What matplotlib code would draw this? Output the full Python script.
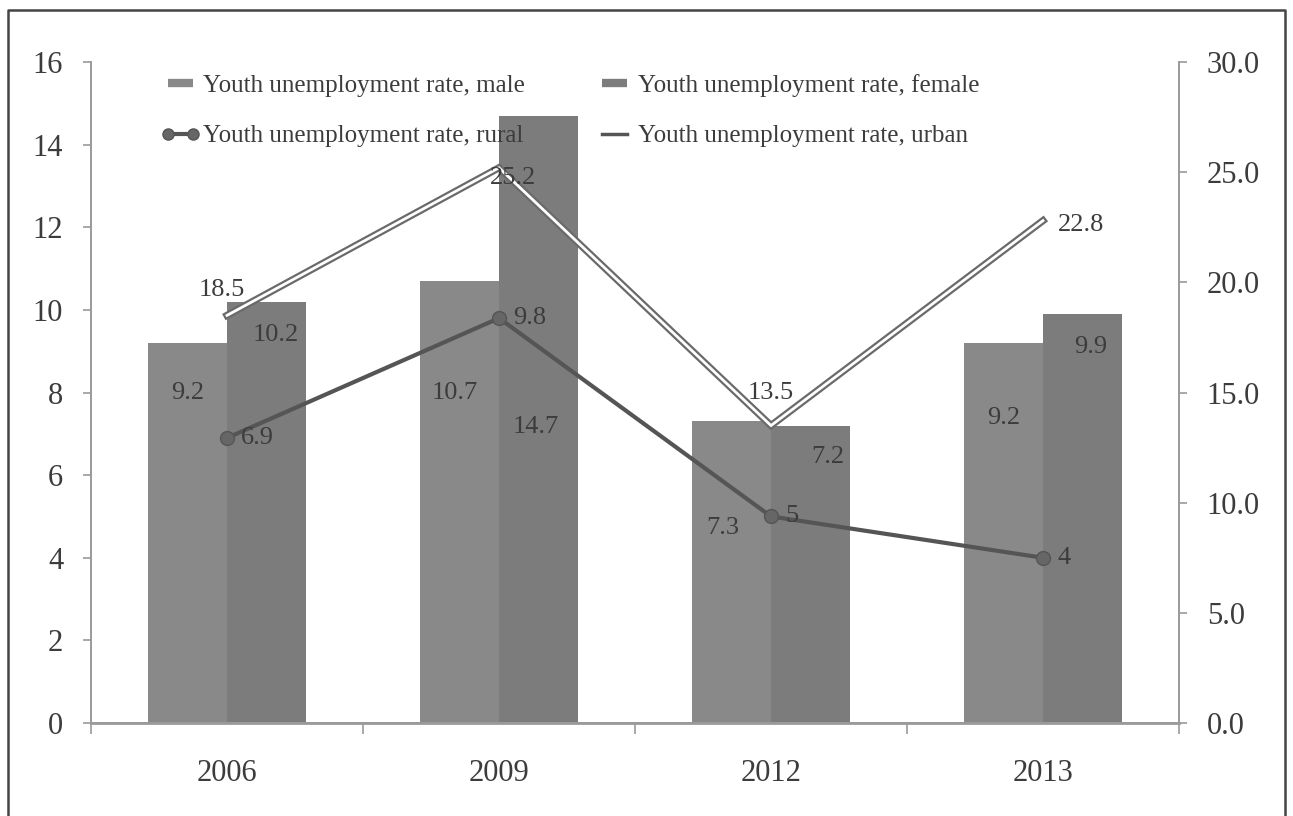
import matplotlib
matplotlib.use("Agg")
import matplotlib.pyplot as plt
import numpy as np
from matplotlib.lines import Line2D

plt.rcParams['font.family'] = ['Liberation Serif', 'DejaVu Serif']

years = ['2006', '2009', '2012', '2013']
male = [9.2, 10.7, 7.3, 9.2]
female = [10.2, 14.7, 7.2, 9.9]
rural = [6.9, 9.8, 5, 4]
urban = [18.5, 25.2, 13.5, 22.8]

# label offsets (pixels) relative to the top of each bar / each point
male_lbl_off = [(0, -50), (-5, -112), (-9, -107), (0, -75)]
female_lbl_off = [(9, -33), (-3, -311), (17, -31), (8, -33)]
urban_lbl_off = [(-5, 25), (14, -10), (0, 33), (38, -4)]

txt = '#3c3c3c'
axis_c = '#9a9a9a'
c_male = '#898989'
c_female = '#7c7c7c'
c_rural = '#555555'
c_urban = '#6a6a6a'

fig = plt.figure(figsize=(12.93, 8.16), dpi=100)
ax = fig.add_axes([91 / 1293, 1 - 723 / 816, (1179 - 91) / 1293, (723 - 62) / 816])
ax2 = ax.twinx()
ax.patch.set_visible(False)

x = np.arange(len(years))
w = 0.29
ax.bar(x - w / 2, male, w, color=c_male, zorder=2)
ax.bar(x + w / 2, female, w, color=c_female, zorder=2)
ax.plot(x, rural, color=c_rural, lw=3, marker='o', ms=10,
        mfc='#666666', mec='#555555', zorder=4)

# urban series drawn as a hollow double line on the right axis
ax2.plot(x, urban, color=c_urban, lw=5.2, solid_joinstyle='miter', zorder=3)
ax2.plot(x, urban, color='white', lw=2.0, solid_joinstyle='miter', zorder=3)

lbl_kw = dict(textcoords='offset pixels', fontsize=19, color=txt,
              ha='center', va='center', zorder=6)
for i in range(len(years)):
    ax.annotate(f'{male[i]}', (x[i] - w / 2, male[i]), xytext=male_lbl_off[i], **lbl_kw)
    ax.annotate(f'{female[i]}', (x[i] + w / 2, female[i]), xytext=female_lbl_off[i], **lbl_kw)
    ax.annotate(f'{rural[i]}', (x[i], rural[i]), xytext=(14, 0),
                textcoords='offset pixels', fontsize=19, color=txt,
                ha='left', va='center', zorder=6)
    ax2.annotate(f'{urban[i]}', (x[i], urban[i]), xytext=urban_lbl_off[i], **lbl_kw)

ax.set_xlim(-0.5, len(years) - 0.5)
ax.set_ylim(0, 16)
ax2.set_ylim(0, 30)
ax.set_yticks(np.arange(0, 17, 2))
ax2.set_yticks(np.arange(0, 31, 5))
ax2.set_yticklabels([f'{v:.1f}' for v in np.arange(0, 31, 5)])
ax.set_xticks(x)
ax.set_xticklabels(years)
ax.set_xticks(np.arange(-0.5, len(years), 1), minor=True)

for a in (ax, ax2):
    a.spines['top'].set_visible(False)
    for s in ('left', 'right', 'bottom'):
        a.spines[s].set_color(axis_c)
        a.spines[s].set_linewidth(1.2)
ax.spines['bottom'].set_linewidth(2)
ax.tick_params(axis='y', length=6, width=1.2, color=axis_c, pad=14,
               labelsize=22, labelcolor=txt)
ax2.tick_params(axis='y', length=6, width=1.2, color=axis_c, pad=14,
                labelsize=22, labelcolor=txt)
ax.tick_params(axis='x', which='major', length=0, pad=26, labelsize=22, labelcolor=txt)
ax.tick_params(axis='x', which='minor', length=8, width=1.2, color=axis_c)

handles = [
    Line2D([], [], color=c_male, lw=6, solid_capstyle='butt'),
    Line2D([], [], color=c_rural, lw=3, marker='o', ms=8, mfc='#666666', mec='#555555'),
    Line2D([], [], color=c_female, lw=6, solid_capstyle='butt'),
    Line2D([], [], color='#555555', lw=2.5),
]
labels = ['Youth unemployment rate, male', 'Youth unemployment rate, rural',
          'Youth unemployment rate, female', 'Youth unemployment rate, urban']
leg = fig.legend(handles, labels, ncol=2, loc='upper left',
                 bbox_to_anchor=(160 / 1293, 1 - 74 / 816),
                 frameon=False, fontsize=18, numpoints=2, handlelength=1.6,
                 handletextpad=0.12, labelspacing=1.12, columnspacing=2.8,
                 borderpad=0, borderaxespad=0)
for t in leg.get_texts():
    t.set_color(txt)
leg.set_zorder(10)

# outer frame around the chart
fig.add_artist(Line2D([8 / 1293, 8 / 1293, 1285 / 1293, 1285 / 1293],
                      [0, 1 - 10 / 816, 1 - 10 / 816, 0],
                      transform=fig.transFigure, color='#444444', lw=1.8))

fig.savefig('out.png', dpi=100, facecolor='white')
